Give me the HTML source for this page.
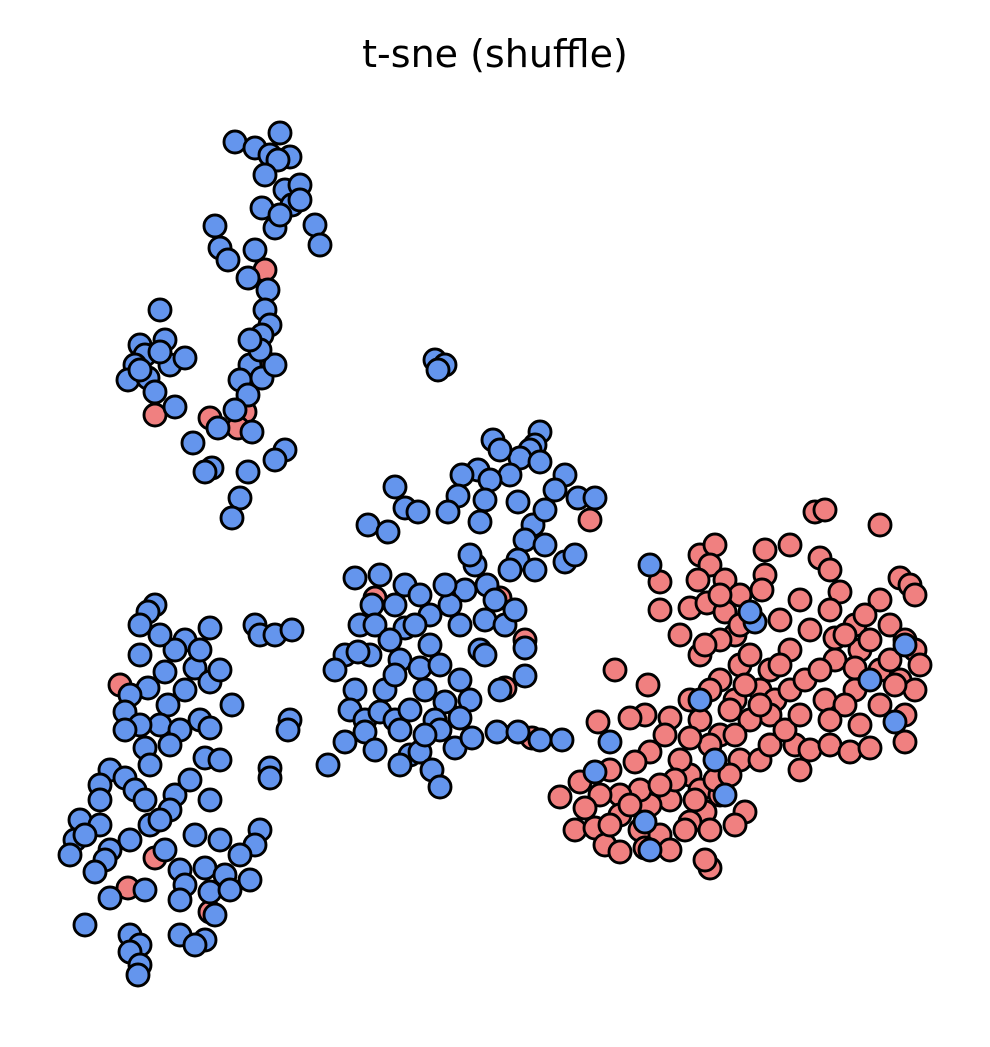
<!DOCTYPE html>
<html><head><meta charset="utf-8">
<style>
html,body{margin:0;padding:0;background:#fff;}
svg{display:block;}
</style></head>
<body>
<svg id="chart" width="990" height="1047" viewBox="0 0 990 1047" xmlns="http://www.w3.org/2000/svg">
<rect width="990" height="1047" fill="#fff"/>
<text x="495" y="67" text-anchor="middle" font-family="DejaVu Sans, Liberation Sans, sans-serif" font-size="38" fill="#000">t-sne (shuffle)</text>
<g id="red-layer"></g>
<g id="blue-layer"></g>
<g id="blue-top-layer"></g>
</svg>
<script>
const bluePoints = [
[19.5,85.8],[21.5,85.2],[24,86.7],[23,84.5],[25,84.3],[23.8,84],[22.5,82.5],[24.5,81],[26,81.5],[25.2,79.5],[22.2,79.2],[23.5,77.2],[27.5,77.5],[28,75.5],[17.5,77.4],[18,75.2],[18.8,74],[21.5,75],[20.8,72.2],[22.8,71],[22.5,69],[23,67.5],[22.2,66.5],[12,69],[10,65.5],[12.5,66],[10.5,64.5],[9.5,63.5],[8.8,62],[10.8,62.2],[13,63.5],[14.5,64.2],[11.5,60.8],[13.5,59.3],[21,63.5],[20,62],[22.2,62.2],[23.5,63.5],[20.8,60.5],[19.5,59],[21.2,56.8],[15.3,55.7],[17.8,57.2],[24.5,55],[23.5,54],[17.2,53.2],[16.5,52.8],[20.8,52.8],[20,50.2],[19.2,48.2],
[24,78.5],[26,80],[22,65],[21,66],[10,63],[12,64.8],
[39.5,64],[40.5,63.5],[39.8,63],
[45.3,56],[50,56.8],[49.5,55.5],[49,55],[48,54.2],[50,53.8],[47,52.5],[43.8,53],[42.2,52.5],[41.8,50.4],[45,52],[52.5,52.5],[35.5,51.3],[36.5,49.2],[37.8,48.8],[40.8,48.8],[44,47.8],[47.8,49.8],[49.3,47.5],[51.5,51],[53.8,50.2],[55.5,50.2],[32.8,47.5],[34.8,46.8],[48.5,46],[50.5,45.5],[47.8,44],[52.5,43.8],[53.5,44.5],[49.5,43],[47,43],[43.5,43.5],[44.7,41.5],[45.5,40],[31.5,42.2],[34,42.5],[36.5,41.5],[42.5,41],[41,39.5],[39,38.5],[35.5,39.5],[33.2,39.5],[32,37.5],[33.5,37.5],[36.5,37.2],[37.5,37.5],[44.5,38],[46.5,37.5],[44,35],[48.5,35.2],[30.5,34.5],[33,34.5],[36,34],[38,33.2],[40,33.5],[44.5,34.5],[29.5,33],[31.5,31],[34.5,31],[38.5,31],[40.5,29.8],[43,30],[46,31],[48.5,32.4],[31,29],[32.5,28],[34,28.8],[35.5,28],[37,29],[39.5,28],[42,28.2],[40,27],[32.5,26.8],[30.5,25.8],[33.5,25],[37,24.5],[38,24.8],[41.5,25.2],[43.2,26.2],[45.7,26.8],[47.8,26.8],[50,26],[52.2,26],[28.8,23.5],[36,23.5],[39.2,23],[40,21.3],[25,28],[24.8,27],[23,23.2],
[38,40.5],[40.5,41.5],[42,37.5],[35,36],[31.8,34.8],[35.5,32.5],[39,35.5],[42,32],[47.5,39],[50.5,49],[46,55],[44.5,50],[36,27],[38.5,26.5],[43,44.5],
[11.5,39.5],[10.8,38.8],[10,37.5],[17,37.2],[14.5,36],[13.5,35],[10,34.5],[15.5,33.2],[12.5,32.8],[17,31.8],[10.8,31.2],[9,30.5],[14.5,31],[12.8,29.5],[19.2,29.5],[8.5,28.8],[16,28],[12,27.5],[10,27.5],[17,27.2],[14,27],[8.5,27],[10.5,25.2],[16.5,24.2],[18,24],[11,23.5],[7,23],[8.5,22.2],[9.5,21],[10.5,20],[13.5,20.5],[17,20],[6,21.5],[13,19],[11,17.5],[4,18],[6,17.5],[22,17],[15.5,16.5],[3.5,16],[21.5,15.5],[7,15],[12.5,15],[3,14.5],[20,14.5],[6.5,14],[16.5,13.2],[14,13],[5.5,12.8],[18.5,12.5],[21,12],[10.5,11],[14.5,11.5],[17,10.8],[7,10.2],[19,11],[4.5,7.5],[17.5,8.5],[9,6.5],[14,6.5],[16.5,6],[10,5.5],[9,4.8],[15.5,5.5],[10,3.5],[9.8,2.5],[21.5,37.5],[22,36.5],[23.5,36.5],[25.2,37],[23,22.2],
[12,36.5],[16,35],[18,33],[13,25.5],[15,22],[12,18],[9,16],[18,16],[14,10],[6,20],[4.5,16.5]
];
const bluePointsRight = [
[61,43.5],[57,25.8],[55.5,22.8],[66,30],[71.5,37.8],[71,38.8],[68.5,20.5],[67.5,24],[60.5,17.8],[61,15],[83,32],[85.5,27.8],[86.5,35.5]
];
const redPoints = [
[22.5,73],[23.2,63.5],[11.5,58.5],[17,58.2],[20.5,58.8],[19.8,57.2],
[55,48],[46,40.2],[46.5,31.2],[48.5,36],[33.5,40.2],[49.2,26.2],
[8,31.5],[11.5,14.2],[8.8,11.2],[17,8.8],
[62,41.8],[62,39],[66,44.5],[67.5,45.5],[67,43.5],[68.5,42],[65.8,42],[65,39.2],[66.7,39.7],[68.5,38.8],[70,40.5],[72.5,45],[72.5,42.5],[72.2,41],[75,45.5],[77.5,48.8],[78.5,49],[84,47.5],[78,44.2],[79,43],[80,40.8],[79,39],[77,37],[79.5,36.2],[81.5,37.5],[84,40],[86,42.2],[87,41.5],[87.5,40.5],[85,37.5],[86.5,36],[87.5,35],[82,35],[79.5,34],[81.5,33.2],[84,33],[86,32],[87.5,31],[81.5,31],[78.5,30],[80.5,29.5],[84,29.5],[86.5,28.5],[75,35],[73,33],[69.5,36.5],[68,36],[66,34.5],[68,32],[70,33.5],[72,31],[73.5,30],[75,31],[73,28.5],[71,28],[69.5,30],[67,31],[65,30],[66,28],[68,26.5],[69.5,26.5],[67,25.5],[65,26.2],[63,28.2],[60.5,28.5],[59,28.2],[55.8,27.8],[57.5,33],[60.8,31.5],[70,24],[72,24],[73,25.5],[76,23],[75.5,25.5],[77,25],[79,25.5],[81,24.8],[83,25.2],[86.5,25.8],[79,28],[82,27.5],[61,24.8],[59.5,23.8],[57,23],[65,22.5],[66,21],[68,20.5],[70.5,18.8],[69.5,17.5],[66.5,18.8],[65,17.8],[63,20],[61,19.5],[60,21],[58,20.5],[56,20.5],[54,21.8],[52,20.3],[54.5,19.2],[53.5,17],[55.5,17.2],[58,18.5],[60,17],[62,16.5],[64.5,17],[67,17],[63,15],[60.5,15.2],[56.5,15.5],[58,14.8],[67,13.2],[66.5,14],
[64,36.5],[66.5,35.5],[71,34.5],[74,33.5],[76.5,32],[78,33],[69,29],[70.5,31.5],[72,29.5],[74.5,27],[76,28.5],[62.5,26.5],[64,24],[63.5,22],[62,21.5],[59,19.5],[57,17.5],[65.5,20],[67.5,22],[69,22.5],[80.5,36.5],[83,36],[85,34],[82.5,38.5],[88,33.5],[85.5,31.5],[68,40.5],[70,37.5],[74,38],[76,40]
];

const NS = 'http://www.w3.org/2000/svg';
function xScale(v){ return 40 + v * 10; }
function yScale(v){ return 1000 - v * 10; }

function drawPoints(layerId, pts, color, name){
  const g = document.getElementById(layerId);
  pts.forEach(function(p){
    const c = document.createElementNS(NS, 'circle');
    c.setAttribute('cx', xScale(p[0]));
    c.setAttribute('cy', yScale(p[1]));
    c.setAttribute('r', 11);
    c.setAttribute('fill', color);
    c.setAttribute('stroke', '#000');
    c.setAttribute('stroke-width', 2.9);
    
    
    g.appendChild(c);
  });
}
drawPoints('red-layer', redPoints, '#F08080', 'red-point');
drawPoints('blue-layer', bluePoints, '#6495ED', 'blue-point');
drawPoints('blue-top-layer', bluePointsRight, '#6495ED', 'blue-point');
</script>
</body></html>
